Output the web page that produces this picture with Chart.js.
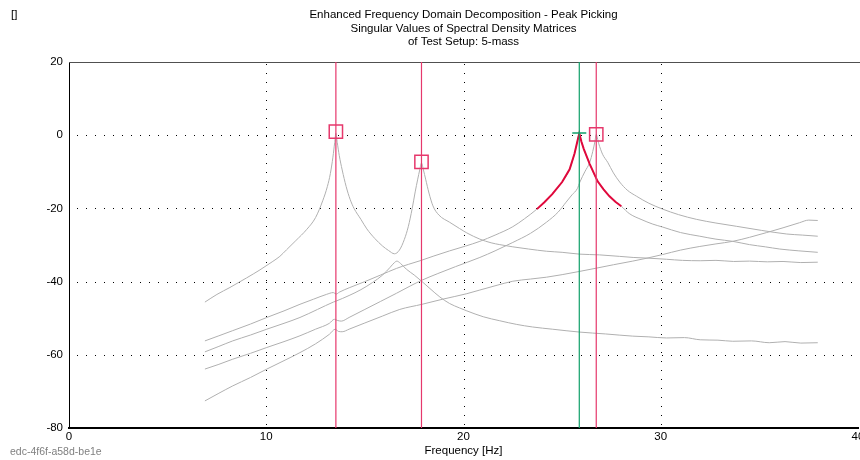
<!DOCTYPE html>
<html>
<head>
<meta charset="utf-8">
<script src="https://cdn.jsdelivr.net/npm/chart.js@4.4.1/dist/chart.umd.min.js"></script>
<style>
  html, body { margin: 0; padding: 0; background: #ffffff; }
  #wrap { width: 860px; height: 460px; }
</style>
</head>
<body>
<div id="wrap"><canvas id="c" width="860" height="460"></canvas></div>
<script>
// ---------------- DATA ----------------
const titleLines = [
  'Enhanced Frequency Domain Decomposition - Peak Picking',
  'Singular Values of Spectral Density Matrices',
  'of Test Setup: 5-mass'
];
const xAxisTitle = 'Frequency [Hz]';
const cornerText = '[]';
const footerId = 'edc-4f6f-a58d-be1e';

const xMin = 0, xMax = 40, xStep = 10;
const yMin = -80, yMax = 20, yStep = 20;

// singular value curves: [frequency Hz, dB]
const sv1 = [[6.89,-45.6],[7.5,-43.5],[8.16,-41.6],[9.0,-39.0],[9.68,-36.8],[10.3,-34.6],[10.69,-33.1],[11.03,-31.3],[11.5,-28.8],[12.06,-25.7],[12.5,-22.5],[12.87,-17.8],[13.1,-14.0],[13.25,-10.5],[13.38,-6.0],[13.47,-2.0],[13.53,0.5],[13.6,-2.0],[13.7,-5.5],[13.85,-9.5],[14.05,-14.0],[14.25,-17.5],[14.45,-20.0],[14.8,-23.0],[15.1,-25.6],[15.5,-28.2],[15.9,-30.3],[16.2,-31.5],[16.5,-32.4],[16.75,-31.4],[17.0,-28.5],[17.2,-25.0],[17.4,-20.0],[17.55,-15.5],[17.68,-12.0],[17.78,-9.5],[17.87,-7.6],[17.97,-9.5],[18.08,-12.0],[18.25,-15.8],[18.45,-19.3],[18.75,-21.8],[19.3,-23.8],[19.8,-25.5],[20.17,-26.7],[20.83,-28.4],[21.4,-29.4],[21.84,-29.9],[22.5,-30.5],[23.3,-31.1],[24.2,-31.7],[25.0,-32.0],[25.9,-32.5],[26.9,-32.7],[27.9,-33.1],[28.6,-33.4],[29.4,-33.6],[30.3,-33.9],[31.1,-34.2],[32.0,-34.3],[32.8,-34.2],[33.7,-34.5],[34.5,-34.4],[35.4,-34.6],[36.2,-34.5],[37.1,-34.8],[37.96,-34.7]];

const sv2 = [[6.89,-56.2],[7.6,-54.8],[8.3,-53.4],[9.2,-51.6],[10.03,-49.8],[10.9,-48.0],[11.71,-46.2],[12.4,-44.8],[13.05,-43.5],[13.4,-43.0],[13.55,-43.4],[13.7,-42.9],[14.2,-41.7],[15.0,-40.0],[15.8,-38.2],[16.6,-36.4],[17.2,-35.3],[17.8,-34.3],[18.5,-33.0],[19.3,-31.6],[20.1,-30.3],[20.83,-29.0],[21.6,-27.3],[22.5,-25.0],[23.1,-22.8],[23.72,-20.2],[24.1,-18.3],[24.5,-16.1],[25.0,-12.8],[25.38,-9.3],[25.63,-5.0],[25.78,-1.5],[25.87,0.5],[25.98,-1.8],[26.1,-3.8],[26.4,-7.9],[26.8,-12.6],[27.1,-14.8],[27.4,-16.7],[27.7,-18.2],[28.0,-19.4],[28.4,-21.4],[29.0,-23.0],[29.6,-24.3],[30.1,-25.1],[31.0,-26.6],[31.98,-27.6],[32.8,-28.4],[33.65,-29.0],[34.5,-29.9],[35.3,-30.5],[36.03,-31.1],[37.0,-31.6],[37.96,-32.0]];

const sv3 = [[6.89,-59.2],[7.6,-57.7],[8.3,-56.2],[9.2,-54.6],[10.03,-53.0],[10.9,-51.4],[11.71,-49.8],[12.6,-47.6],[13.4,-45.6],[13.55,-45.3],[14.2,-43.8],[14.8,-42.2],[15.4,-40.2],[15.9,-38.2],[16.28,-36.1],[16.5,-34.8],[16.62,-34.4],[16.8,-35.0],[17.1,-36.6],[17.5,-38.2],[17.9,-40.0],[18.3,-41.9],[18.8,-44.2],[19.3,-46.0],[19.8,-47.2],[20.17,-48.0],[21.0,-49.6],[21.84,-50.7],[22.7,-51.7],[23.5,-52.4],[24.5,-53.0],[25.9,-53.8],[27.2,-54.3],[28.58,-54.9],[29.4,-55.1],[30.3,-55.4],[31.2,-55.3],[32.0,-55.9],[32.9,-56.0],[33.65,-56.3],[34.6,-56.2],[35.5,-56.7],[36.3,-56.4],[37.1,-56.8],[37.96,-56.7]];

const sv4 = [[6.89,-63.9],[7.6,-62.6],[8.3,-61.2],[9.2,-59.6],[10.03,-58.0],[10.9,-56.4],[11.71,-54.8],[12.5,-53.0],[13.2,-51.4],[13.45,-50.3],[13.6,-50.6],[13.8,-50.8],[14.2,-49.8],[15.0,-47.6],[15.8,-45.4],[16.6,-43.2],[17.3,-41.2],[17.9,-39.6],[18.7,-37.8],[19.6,-35.9],[20.83,-33.4],[21.6,-31.6],[22.5,-29.3],[23.4,-26.8],[24.2,-23.8],[24.8,-21.0],[25.2,-18.3],[25.5,-16.3],[25.77,-14.6],[25.9,-12.8],[26.15,-10.0],[26.4,-7.4],[26.55,-4.5],[26.66,-1.8],[26.73,0.2],[26.85,-2.2],[27.05,-5.2],[27.31,-7.4],[27.6,-10.3],[27.92,-12.8],[28.3,-15.0],[28.78,-16.7],[29.4,-18.6],[30.1,-20.2],[30.9,-21.7],[31.82,-23.0],[32.8,-24.0],[33.85,-24.9],[35.1,-26.0],[36.39,-27.0],[37.2,-27.3],[37.96,-27.6]];

const sv5 = [[6.89,-72.6],[7.6,-70.5],[8.3,-68.5],[9.2,-66.2],[10.03,-63.9],[10.9,-61.6],[11.71,-59.4],[12.5,-57.0],[13.2,-54.4],[13.5,-53.0],[13.65,-53.6],[13.85,-53.7],[14.2,-53.0],[15.0,-51.3],[15.9,-49.4],[16.77,-47.6],[17.9,-46.2],[18.95,-44.8],[20.17,-43.3],[20.83,-42.3],[21.7,-41.0],[22.5,-39.9],[23.4,-39.3],[24.2,-38.8],[25.0,-38.1],[25.9,-37.2],[26.76,-36.3],[27.6,-35.4],[28.58,-34.4],[29.3,-33.6],[30.1,-32.6],[31.0,-31.4],[31.98,-30.4],[32.8,-29.7],[33.65,-29.0],[34.5,-27.9],[35.37,-26.6],[36.2,-25.3],[37.04,-23.9],[37.5,-23.2],[37.96,-23.3]];

// picked peaks (red lines + squares)
const peakFreqs = [13.53, 17.87, 26.73];
const peakVals  = [1.0, -7.3, 0.2];
// EFDD identified SDOF bell (red) and its peak (green)
const bellRange = [23.72, 28.0];
const efddPeakFreq = 25.87;
const efddPeakVal = 0.6;

// ---------------- STYLE ----------------
const FONT = '"Liberation Sans", Arial, sans-serif';
const GRAY = '#b0b0b0';
const RED_LINE = '#e6386c';
const RED_BELL = '#e0083c';
const GREEN = '#10a06a';

const toXY = arr => arr.map(p => ({x: p[0], y: p[1]}));

const grayCurve = (arr) => ({
  type: 'line', data: toXY(arr), borderColor: GRAY, borderWidth: 1,
  pointRadius: 0, cubicInterpolationMode: 'monotone', order: 10
});

const datasets = [];
[sv1, sv2, sv3, sv4, sv5].forEach(s => datasets.push(grayCurve(s)));

datasets.push({
  type: 'line',
  data: toXY(sv2.filter(p => p[0] >= bellRange[0] && p[0] <= bellRange[1])),
  borderColor: RED_BELL, borderWidth: 2, pointRadius: 0, tension: 0, order: 5
});

peakFreqs.forEach(f => datasets.push({
  type: 'line', data: [{x: f, y: yMax}, {x: f, y: yMin}],
  borderColor: RED_LINE, borderWidth: 1.2, pointRadius: 0, order: 3
}));

datasets.push({
  type: 'line', data: [{x: efddPeakFreq, y: yMax}, {x: efddPeakFreq, y: yMin}],
  borderColor: GREEN, borderWidth: 1.2, pointRadius: 0, order: 2
});
datasets.push({
  type: 'line', data: [{x: efddPeakFreq, y: efddPeakVal}], showLine: false,
  pointStyle: 'line', pointRadius: 7, borderColor: GREEN, borderWidth: 1.5, order: 1
});

datasets.push({
  type: 'line', data: peakFreqs.map((f, i) => ({x: f, y: peakVals[i]})), showLine: false,
  pointStyle: 'rect', pointRadius: 9.4, borderColor: RED_LINE, borderWidth: 1.5,
  backgroundColor: 'rgba(0,0,0,0)', order: 0
});

const decor = {
  id: 'decor',
  beforeDatasetsDraw(chart) {
    const {ctx, chartArea: a, scales: {x, y}} = chart;
    ctx.save();
    ctx.fillStyle = '#000';
    x.ticks.forEach(t => {
      if (t.value <= x.min || t.value >= x.max) return;
      const px = Math.round(x.getPixelForValue(t.value));
      for (let py = a.top + 2; py < a.bottom - 1; py += 9) ctx.fillRect(px, py, 1, 1);
    });
    y.ticks.forEach(t => {
      if (t.value <= y.min || t.value >= y.max) return;
      const py = Math.round(y.getPixelForValue(t.value));
      for (let px = a.left + 8; px < chart.width; px += 9) ctx.fillRect(px, py, 1, 1);
    });
    ctx.fillStyle = '#505050';
    ctx.fillRect(a.left, a.top, chart.width - a.left, 1);
    ctx.restore();
  },
  afterDraw(chart) {
    const {ctx, chartArea: a} = chart;
    const cx = (a.left + a.right) / 2;
    ctx.save();
    ctx.fillStyle = '#000';
    ctx.font = '11.5px ' + FONT;
    ctx.textAlign = 'center';
    ctx.textBaseline = 'middle';
    titleLines.forEach((t, i) => ctx.fillText(t, cx, 15 + i * 13.5));
    ctx.fillText(xAxisTitle, cx, 451);
    ctx.textAlign = 'left';
    ctx.fillText(cornerText, 11, 15);
    ctx.fillStyle = '#808080';
    ctx.font = '10.5px ' + FONT;
    ctx.fillText(footerId, 10, 452);
    ctx.restore();
  }
};

new Chart(document.getElementById('c'), {
  type: 'line',
  data: { datasets },
  options: {
    responsive: false,
    animation: false,
    devicePixelRatio: 1,
    layout: { autoPadding: false, padding: { left: 0, top: 62, right: 2, bottom: 0 } },
    plugins: { legend: { display: false }, tooltip: { enabled: false }, title: { display: false } },
    scales: {
      x: {
        type: 'linear', min: xMin, max: xMax,
        ticks: { stepSize: xStep, color: '#000', font: { family: FONT, size: 11.5 }, padding: 2, maxRotation: 0, autoSkip: false },
        grid: { display: false, drawTicks: false },
        border: { display: true, color: '#000', width: 2 },
        afterFit(s) { s.height = 32; s.paddingLeft = 0; s.paddingRight = 0; }
      },
      y: {
        type: 'linear', min: yMin, max: yMax,
        ticks: { stepSize: yStep, color: '#000', font: { family: FONT, size: 11.5 }, padding: 6 },
        grid: { display: false, drawTicks: false },
        border: { display: true, color: '#000', width: 1 },
        afterFit(s) { s.width = 69; s.paddingTop = 0; s.paddingBottom = 0; }
      }
    }
  },
  plugins: [decor]
});
</script>
</body>
</html>
